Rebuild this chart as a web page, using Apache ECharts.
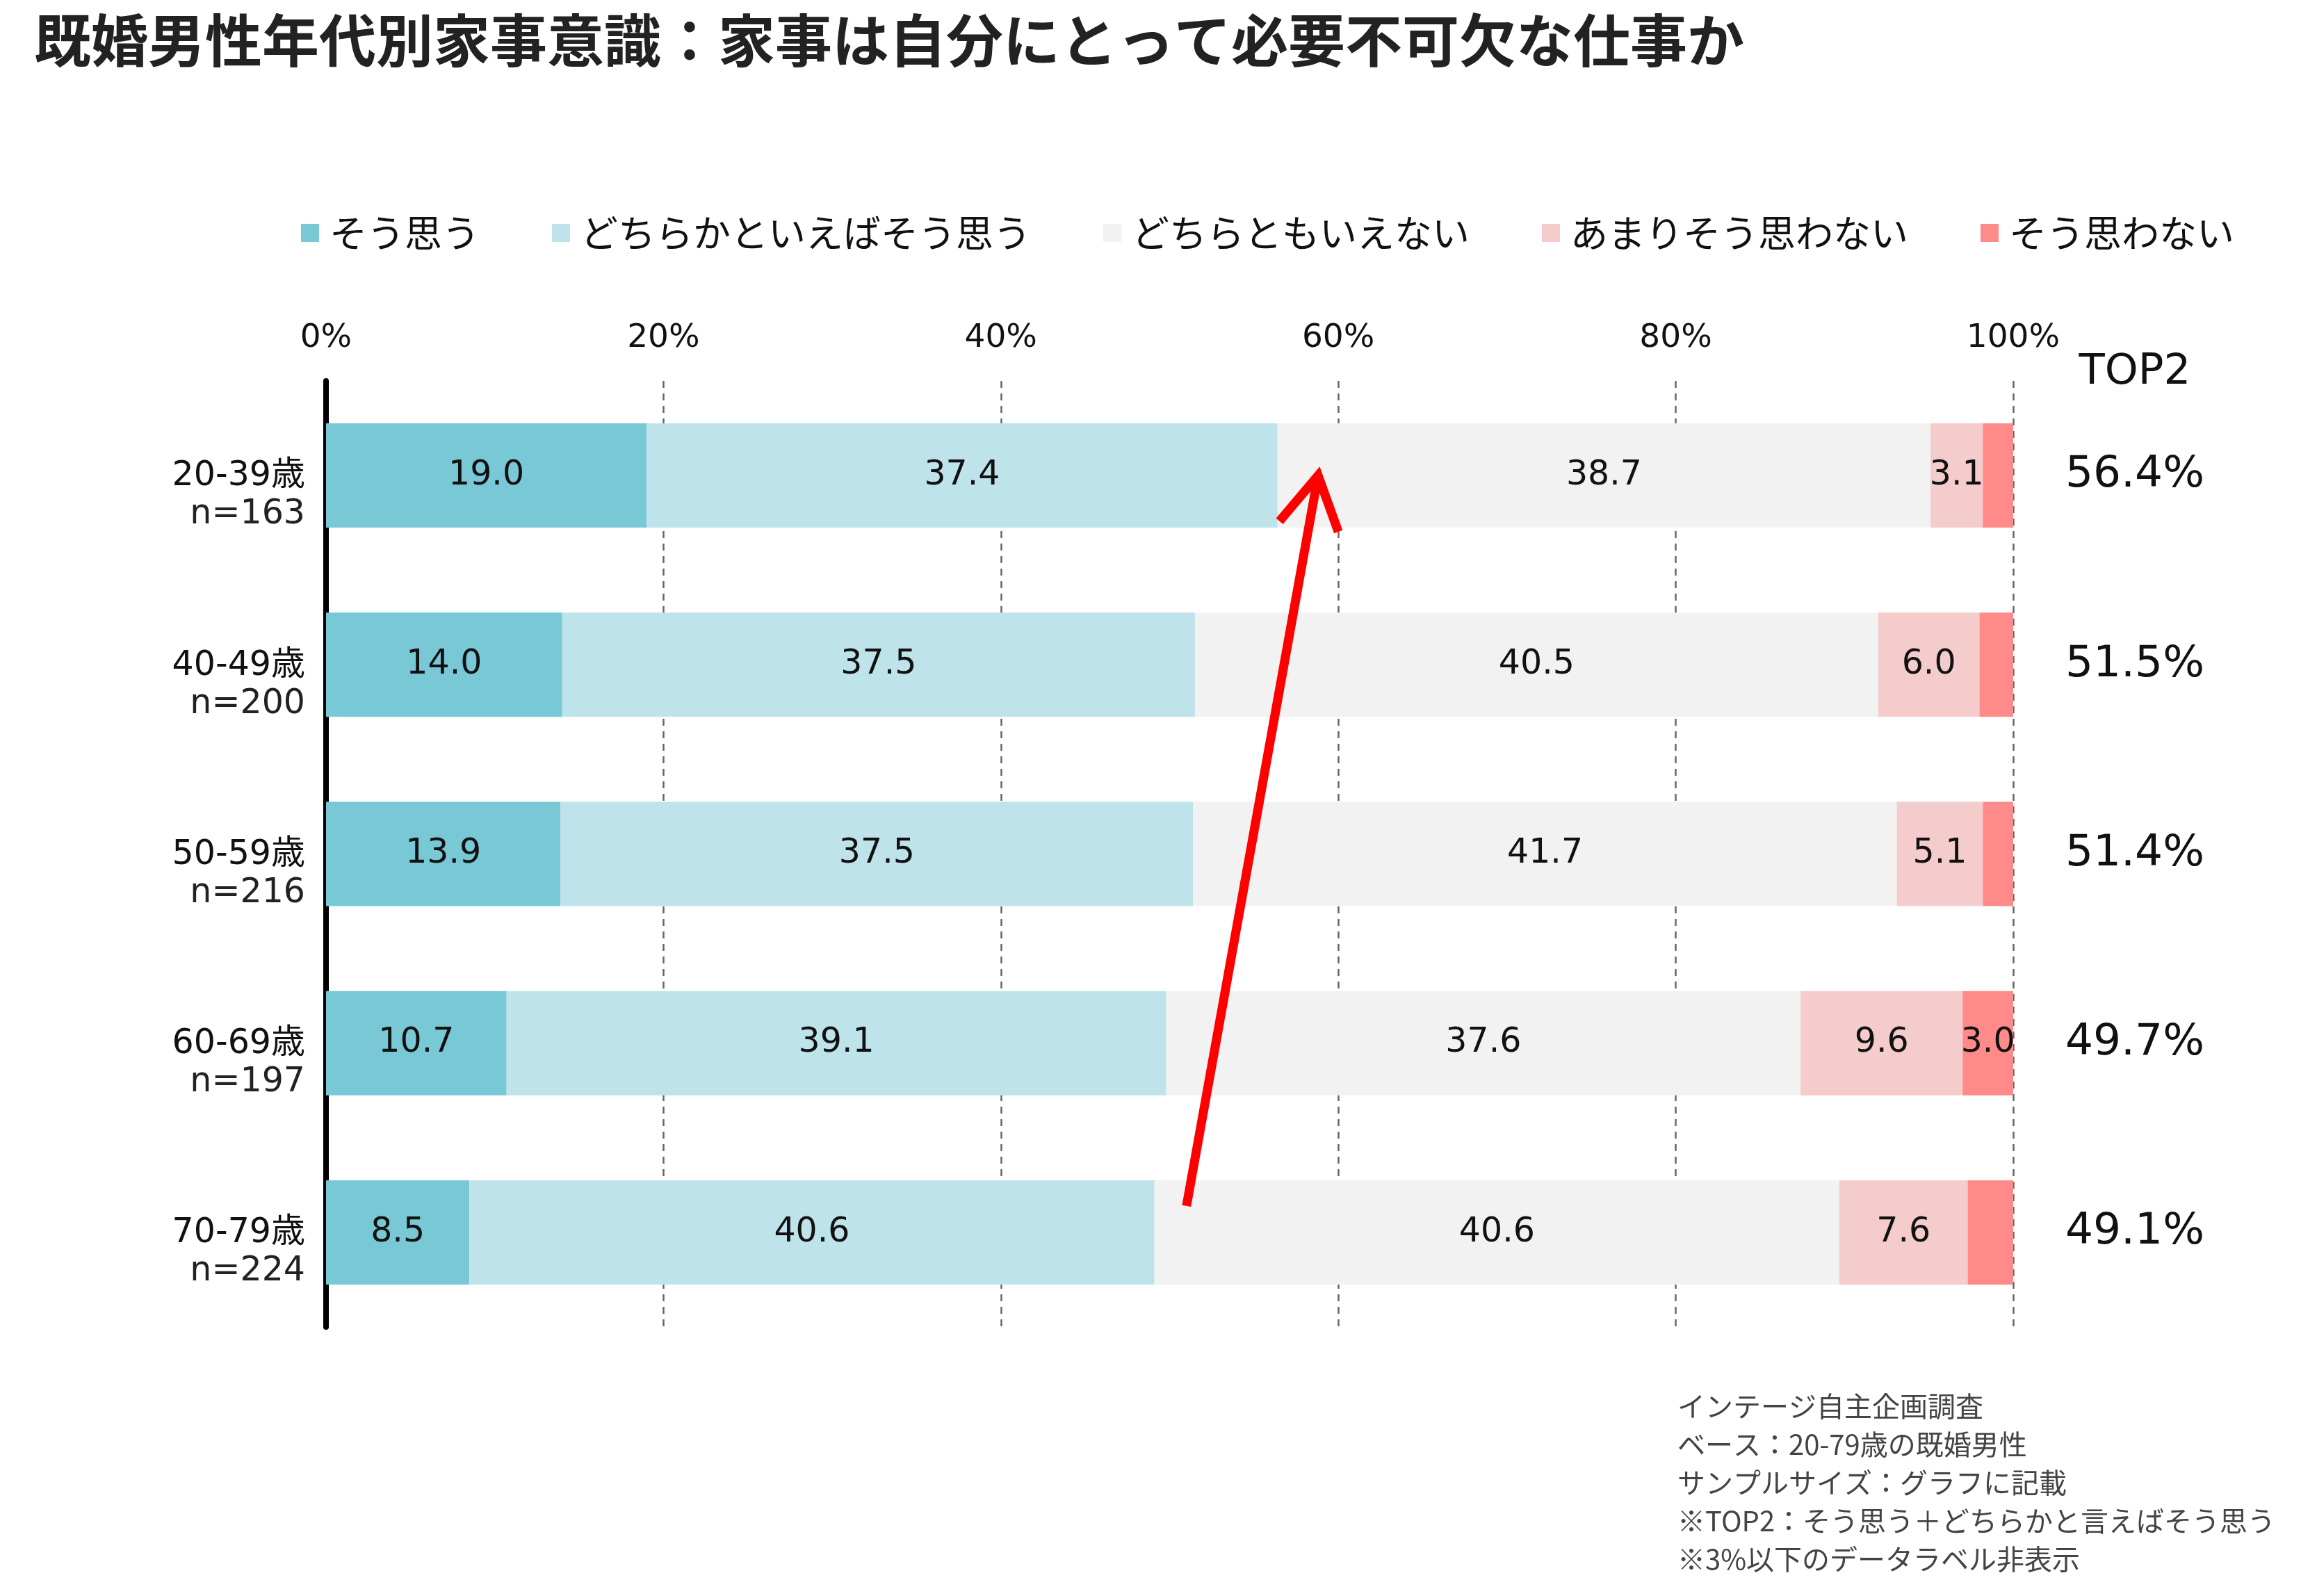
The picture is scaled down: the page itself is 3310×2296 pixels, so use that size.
<!DOCTYPE html>
<html>
<head>
<meta charset="utf-8">
<script src="https://cdn.jsdelivr.net/npm/echarts@6/dist/echarts.min.js"></script>
<style>
html, body { margin: 0; padding: 0; background: #fff; }
#chart { width: 3310px; height: 2296px; }
</style>
</head>
<body>
<div id="chart"></div>
<script>
// values
var ages = ['20-39歳', '40-49歳', '50-59歳', '60-69歳', '70-79歳'];
var sampleSizes = [163, 200, 216, 197, 224];
var answerNames = ['そう思う', 'どちらかといえばそう思う', 'どちらともいえない', 'あまりそう思わない', 'そう思わない'];
var agree = [19.0, 14.0, 13.9, 10.7, 8.5];
var ratherAgree = [37.4, 37.5, 37.5, 39.1, 40.6];
var neutral = [38.7, 40.5, 41.7, 37.6, 40.6];
var ratherDisagree = [3.1, 6.0, 5.1, 9.6, 7.6];
var disagree = [1.8, 2.0, 1.8, 3.0, 2.7];
var top2 = [56.4, 51.5, 51.4, 49.7, 49.1];
var notes = [
    'インテージ自主企画調査',
    'ベース：20-79歳の既婚男性',
    'サンプルサイズ：グラフに記載',
    '※TOP2：そう思う＋どちらかと言えばそう思う',
    '※3%以下のデータラベル非表示'
];
// arrow annotation, in data space: [percent, category index]
var arrowFrom = [51.0, 3.86];
var arrowTo = [58.8, 0];

var colors = ['#79c8d6', '#bee3eb', '#f2f2f2', '#f4cccc', '#ff8a8a'];
var numFont = '"DejaVu Sans", "Noto Sans CJK JP", sans-serif';
var jpFont = '"Noto Sans CJK JP", sans-serif';

var chart = echarts.init(document.getElementById('chart'));

var values = [agree, ratherAgree, neutral, ratherDisagree, disagree];
var series = values.map(function (arr, i) {
    return {
        name: answerNames[i],
        type: 'bar',
        stack: 'all',
        barWidth: 150,
        itemStyle: { color: colors[i] },
        label: {
            show: true,
            position: 'inside',
            color: '#111',
            fontSize: 49,
            fontFamily: numFont,
            padding: [4, 0, 0, 0],
            formatter: function (p) {
                return p.value >= 3 ? p.value.toFixed(1) : '';
            }
        },
        data: arr
    };
});

var option = {
    backgroundColor: '#fff',
    animation: false,
    title: {
        text: '既婚男性年代別家事意識：家事は自分にとって必要不可欠な仕事か',
        left: 44,
        top: 12,
        textStyle: {
            fontSize: 82,
            fontWeight: 'bold',
            color: '#222',
            fontFamily: jpFont
        }
    },
    legend: {
        data: answerNames,
        left: 428,
        top: 303,
        icon: 'rect',
        itemWidth: 26,
        itemHeight: 26,
        itemGap: 104,
        textStyle: {
            fontSize: 54,
            color: '#111',
            fontFamily: jpFont,
            padding: [0, 0, 0, 10]
        }
    },
    grid: {
        left: 469,
        right: 414,
        top: 548,
        bottom: 387
    },
    xAxis: {
        type: 'value',
        position: 'top',
        min: 0,
        max: 100,
        interval: 20,
        axisLine: { show: false },
        axisTick: { show: false },
        axisLabel: {
            formatter: '{value}%',
            fontSize: 47,
            color: '#111',
            fontFamily: numFont,
            margin: 38
        },
        splitLine: {
            lineStyle: { color: '#666', width: 2.5, type: [10, 8] }
        }
    },
    yAxis: [{
        type: 'category',
        data: ages,
        inverse: true,
        axisLine: { lineStyle: { color: '#000', width: 8, cap: 'round' } },
        axisTick: { show: false },
        axisLabel: {
            margin: 30,
            padding: [58, 0, 0, 0],
            formatter: function (v, i) {
                return '{a|' + v + '}\n{b|n=' + sampleSizes[i] + '}';
            },
            rich: {
                a: { fontSize: 49, lineHeight: 55, color: '#111', fontFamily: numFont, align: 'right' },
                b: { fontSize: 49, lineHeight: 55, color: '#222', fontFamily: numFont, align: 'right' }
            }
        }
    }, {
        type: 'category',
        data: ages,
        inverse: true,
        position: 'right',
        axisLine: { show: false },
        axisTick: { show: false },
        axisLabel: {
            margin: 175,
            align: 'center',
            padding: [10, 0, 0, 0],
            fontSize: 63,
            color: '#111',
            fontFamily: numFont,
            formatter: function (v, i) {
                return top2[i].toFixed(1) + '%';
            }
        }
    }],
    series: series
};

chart.setOption(option);

// red arrow and the free texts
function arrowGraphic() {
    var y3 = chart.convertToPixel({ yAxisIndex: 0 }, 3);
    var y4 = chart.convertToPixel({ yAxisIndex: 0 }, 4);
    var band = y4 - y3;
    function yAt(v) {
        var base = Math.floor(v);
        var yb = chart.convertToPixel({ yAxisIndex: 0 }, base);
        return yb + (v - base) * band;
    }
    var sx = chart.convertToPixel({ xAxisIndex: 0 }, arrowFrom[0]);
    var sy = yAt(arrowFrom[1]);
    var tx = chart.convertToPixel({ xAxisIndex: 0 }, arrowTo[0]);
    var ty = yAt(arrowTo[1]);
    var dx = sx - tx, dy = sy - ty;
    var len = Math.sqrt(dx * dx + dy * dy);
    var ux = dx / len, uy = dy / len;
    var a = 30 * Math.PI / 180, wing = 86;
    function rot(ang) {
        return [tx + wing * (ux * Math.cos(ang) - uy * Math.sin(ang)),
                ty + wing * (ux * Math.sin(ang) + uy * Math.cos(ang))];
    }
    return [
        {
            type: 'line', z: 100,
            shape: { x1: sx, y1: sy, x2: tx + ux * 6, y2: ty + uy * 6 },
            style: { stroke: '#ff0000', lineWidth: 13 }
        },
        {
            type: 'polyline', z: 100,
            shape: { points: [rot(a), [tx, ty], rot(-a)] },
            style: { stroke: '#ff0000', lineWidth: 13, fill: null, lineJoin: 'miter' }
        },
        {
            type: 'text', z: 100,
            style: {
                text: 'TOP2', x: 3071, y: 536, align: 'center', verticalAlign: 'middle',
                fontSize: 61, fontFamily: numFont, fill: '#111'
            }
        },
        {
            type: 'text', z: 100,
            style: {
                text: notes.join('\n'), x: 2413, y: 1995, lineHeight: 55,
                fontSize: 40, fontFamily: jpFont, fill: '#444'
            }
        }
    ];
}

chart.setOption({ graphic: arrowGraphic() });
</script>
</body>
</html>
